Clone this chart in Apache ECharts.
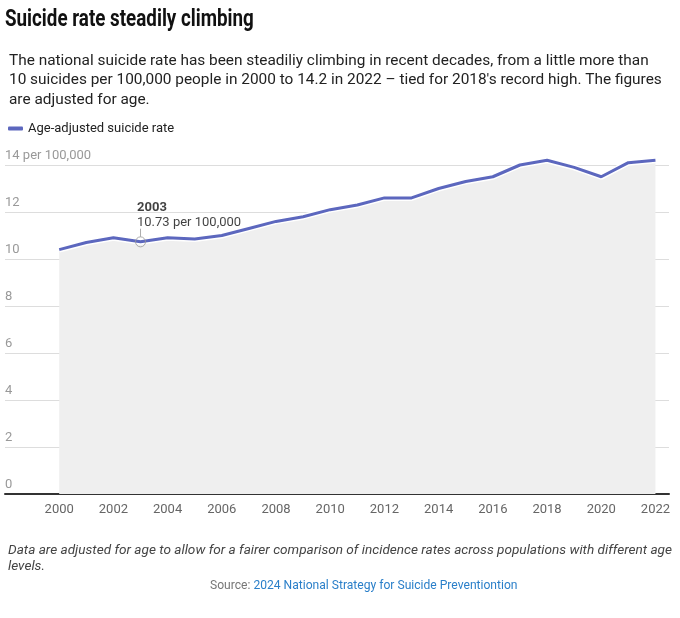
<!DOCTYPE html>
<html><head><meta charset="utf-8">
<script src="https://cdn.jsdelivr.net/npm/echarts@6/dist/echarts.min.js"></script>
<style>html,body{margin:0;padding:0;background:#fff}#c{width:680px;height:618px}</style>
</head><body><div id="c"></div>
<script>
const years = [2000,2001,2002,2003,2004,2005,2006,2007,2008,2009,2010,2011,2012,2013,2014,2015,2016,2017,2018,2019,2020,2021,2022];
const rates = [10.4,10.7,10.9,10.73,10.9,10.85,11.0,11.3,11.6,11.8,12.1,12.3,12.6,12.6,13.0,13.3,13.5,14.0,14.2,13.9,13.5,14.1,14.2];
const annotation = {year: 2003, value: 10.73, label: '10.73 per 100,000'};
const yTicks = [0,2,4,6,8,10,12,14];

const pts = years.map((y,i)=>[y, rates[i]]);
const chart = echarts.init(document.getElementById('c'));
const F = 'Roboto, sans-serif';
chart.setOption({
  animation: false,
  textStyle: {fontFamily: F},
  graphic: [
    {type: 'text', x: 5, y: 8, scaleX: 0.8, originX: 0, originY: 0,
      style: {text: 'Suicide rate steadily climbing', font: 'bold 23.5px Roboto, sans-serif', fill: '#111', textVerticalAlign: 'top', textAlign: 'left'}}
  ],
  title: [
    {text: 'The national suicide rate has been steadiliy climbing in recent decades, from a little more than\n10 suicides per 100,000 people in 2000 to 14.2 in 2022 – tied for 2018\'s record high. The figures\nare adjusted for age.', left: 4, top: 46, textStyle: {fontFamily: F, fontSize: 15.4, fontWeight: 'normal', color: '#222', lineHeight: 19.5}},
    {text: 'Data are adjusted for age to allow for a fairer comparison of incidence rates across populations with different age\nlevels.', left: 3, top: 538, textStyle: {fontFamily: F, fontSize: 13.6, fontStyle: 'italic', fontWeight: 'normal', color: '#444', lineHeight: 16}},
    {text: '{s|Source: }{l|2024 National Strategy for Suicide Preventiontion}', left: 205, top: 575, textStyle: {fontFamily: F, fontSize: 12.1, fontWeight: 'normal', rich: {s: {color: '#777', fontSize: 12.1, fontFamily: F}, l: {color: '#2a7fc9', fontSize: 12.1, fontFamily: F}}}}
  ],
  legend: {data: ['Age-adjusted suicide rate'], left: 3, top: 117, icon: 'roundRect', itemWidth: 15, itemHeight: 4, itemGap: 3, textStyle: {fontFamily: F, fontSize: 13, color: '#222'}},
  grid: {left: 5, right: 11, top: 165, bottom: 124},
  xAxis: {
    type: 'value', min: 1998, max: 2022.5, interval: 2,
    axisLine: {show: true, lineStyle: {color: '#333', width: 2}},
    axisTick: {show: false}, splitLine: {show: false},
    axisLabel: {color: '#666', fontSize: 13, margin: 9, fontFamily: F,
      formatter: v => (v >= 2000 && v <= 2022 && v % 2 === 0) ? String(v) : ''}
  },
  yAxis: {
    type: 'value', min: 0, max: 14, interval: 2,
    axisLine: {show: false}, axisTick: {show: false},
    splitLine: {lineStyle: {color: '#ddd', width: 1}},
    axisLabel: {inside: true, margin: 0, verticalAlign: 'bottom', padding: [0,0,3,0], color: '#999', fontSize: 13, fontFamily: F,
      formatter: v => yTicks.includes(v) ? (v === 14 ? v + ' per 100,000' : String(v)) : ''}
  },
  series: [
    {type: 'line', name: 'bg', data: pts, symbol: 'none', clip: false, silent: true,
      lineStyle: {color: '#fff', width: 6}, areaStyle: {color: '#efefef', opacity: 1}, z: 1},
    {type: 'line', name: 'Age-adjusted suicide rate', data: pts, symbol: 'none', clip: false,
      lineStyle: {color: '#5c67be', width: 3}, itemStyle: {color: '#5c67be'}, z: 3},
    {type: 'scatter', name: 'conn', data: [[annotation.year, annotation.value]], symbol: 'rect', symbolSize: [1, 8], symbolOffset: [0, -9],
      itemStyle: {color: '#999'}, z: 4, silent: true},
    {type: 'scatter', name: 'ann', data: [[annotation.year, annotation.value]], symbol: 'circle', symbolSize: 10,
      itemStyle: {color: 'rgba(255,255,255,0)', borderColor: '#999', borderWidth: 1}, z: 5, silent: true,
      label: {show: true, position: [2, -36], align: 'left', verticalAlign: 'top',
        formatter: '{b|' + annotation.year + '}\n{n|' + annotation.label + '}',
        rich: {b: {fontFamily: F, fontSize: 13, fontWeight: 'bold', color: '#111', lineHeight: 15},
               n: {fontFamily: F, fontSize: 13, color: '#111', lineHeight: 15}}}}
  ]
});
</script></body></html>
